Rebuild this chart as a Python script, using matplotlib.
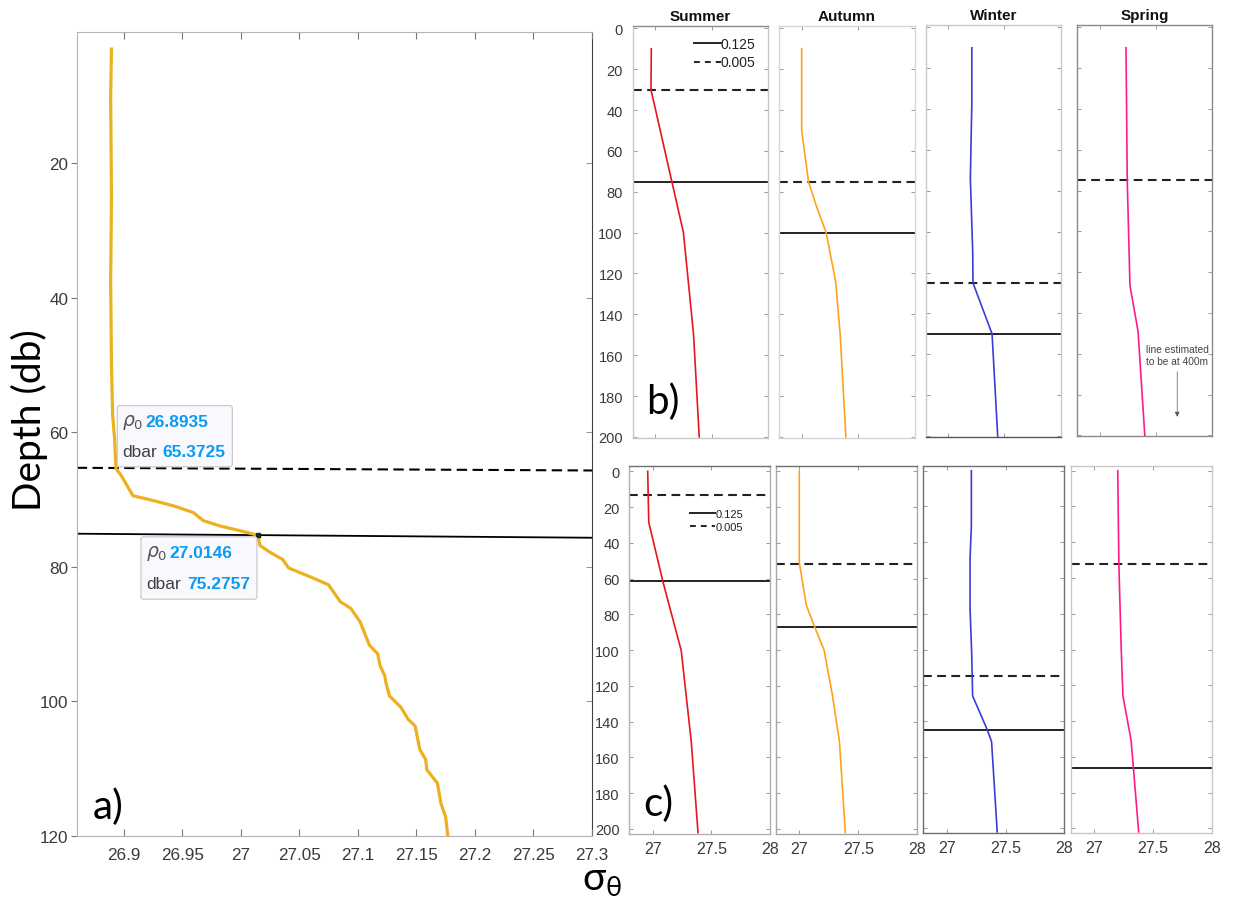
import matplotlib
matplotlib.use('Agg')
import matplotlib.pyplot as plt
from matplotlib.patches import FancyBboxPatch

plt.rcParams['font.family'] = ['Liberation Sans', 'DejaVu Sans']

# ---- panel a) : single profile ----
dep_a = [2.75, 10, 25, 37.5, 50, 57.5, 61, 65.37, 66.4, 67.9, 69.4, 70.0, 70.9,
         71.9, 73.1, 73.9, 74.6, 75.28, 76.8, 77.8, 78.9, 80.15, 81.65, 82.65,
         85.15, 86.15, 88.15, 91.65, 92.9, 94.65, 96.15, 97.15, 99.15, 100.9,
         102.65, 103.65, 107.15, 108.65, 110.15, 112.15, 115.15, 117.15, 120.15]
sig_a = [26.8897, 26.889, 26.8897, 26.889, 26.8897, 26.8907, 26.8924, 26.8935,
         26.898, 26.903, 26.908, 26.9226, 26.9425, 26.9596, 26.968, 26.9824,
         26.9995, 27.0146, 27.0165, 27.025, 27.036, 27.041, 27.062, 27.075,
         27.085, 27.094, 27.102, 27.110, 27.117, 27.119, 27.123, 27.124, 27.127,
         27.137, 27.143, 27.149, 27.153, 27.158, 27.159, 27.168, 27.171, 27.175,
         27.177]
xticks_a = [26.9, 26.95, 27, 27.05, 27.1, 27.15, 27.2, 27.25, 27.3]
xticklabels_a = ['26.9', '26.95', '27', '27.05', '27.1', '27.15', '27.2', '27.25', '27.3']
yticks_a = [20, 40, 60, 80, 100, 120]
mld_dashed_a = [65.25, 65.65]   # 0.005 criterion, left/right end
mld_solid_a = [75.05, 75.65]    # 0.125 criterion
tip1 = ('26.8935', '65.3725')
tip2 = ('27.0146', '75.2757')

# ---- panels b) and c) : seasonal profiles ----
seasons = ['Summer', 'Autumn', 'Winter', 'Spring']
colors = ['#E8141E', '#FFA21A', '#3C3CD2', '#FF1A8C']

dep_b = [[10, 30, 100, 150, 200],
         [10, 50, 75, 87, 100, 124, 150, 200],
         [10, 37, 74, 110, 125, 150, 200],
         [10, 75, 126.5, 149, 200]]
sig_b = [[26.965, 26.962, 27.25, 27.34, 27.39],
         [27.0, 27.0, 27.06, 27.13, 27.216, 27.30, 27.34, 27.39],
         [27.21, 27.21, 27.197, 27.218, 27.22, 27.39, 27.44],
         [27.233, 27.244, 27.268, 27.34, 27.40]]
dashed_b = [30, 75, 125, 75]
solid_b = [75, 100, 150, None]

dep_c = [[0, 28.5, 61.5, 100.3, 151.5, 202],
         [0, 51, 75, 87, 100, 125, 151, 202],
         [0, 31, 49, 77, 103, 126, 145, 151.5, 202],
         [0, 51.8, 99, 126, 150.6, 166, 202]]
sig_c = [[26.957, 26.966, 27.086, 27.243, 27.329, 27.386],
         [27.0, 27.0, 27.06, 27.13, 27.21, 27.28, 27.34, 27.39],
         [27.209, 27.209, 27.198, 27.198, 27.212, 27.22, 27.345, 27.381, 27.429],
         [27.199, 27.208, 27.228, 27.243, 27.312, 27.332, 27.377]]
dashed_c = [13, 52, 115, 52]
solid_c = [61.5, 87, 145, 166]

season_yticks = [0, 20, 40, 60, 80, 100, 120, 140, 160, 180, 200]
season_xticks = [27, 27.5, 28]
season_xticklabels = ['27', '27.5', '28']
legend_labels = ['0.125', '0.005']

W, H = 1234, 904
fig = plt.figure(figsize=(W / 100, H / 100), dpi=100)


def rect(x0, y0, x1, y1):
    return [x0 / W, 1 - y1 / H, (x1 - x0) / W, (y1 - y0) / H]


# ================= panel a =================
ax = fig.add_axes(rect(76.7, 33, 592, 837))
ax.plot(sig_a, dep_a, color='#EDB120', lw=2.3, solid_capstyle='butt', zorder=3)
ax.plot([26.86, 27.3], mld_dashed_a, color='k', lw=1.5, ls=(0, (5, 2.6)), zorder=2)
ax.plot([26.86, 27.3], mld_solid_a, color='k', lw=1.3, zorder=2)
ax.plot([float(tip2[0])], [float(tip2[1])], 's', color='#222222', ms=2.5, zorder=4)
ax.set_xlim(26.86, 27.3)
ax.set_ylim(120, 0.45)
ax.set_xticks(xticks_a)
ax.set_xticklabels(xticklabels_a)
ax.set_yticks(yticks_a)
ax.tick_params(axis='x', direction='in', top=True, length=5, width=0.8,
               color='#777777', labelsize=12.3, labelcolor='#3a3a3a', pad=8)
ax.tick_params(axis='y', direction='out', length=4.5, width=0.8,
               color='#777777', labelsize=12.3, labelcolor='#3a3a3a', pad=1.5)
sec = ax.secondary_yaxis('right')
sec.set_yticks(yticks_a)
sec.tick_params(direction='in', length=4.5, width=0.8, color='#999999', labelright=False)
for s in ['left', 'top', 'bottom']:
    ax.spines[s].set_color('#b4b4b4')
sec.spines['right'].set_color('#404040')
ax.spines['right'].set_visible(False)


def datatip(x0, x1, y0, y1, rows):
    box = FancyBboxPatch((x0, y0), x1 - x0, y1 - y0,
                         boxstyle='round,pad=0,rounding_size=0.0025',
                         mutation_aspect=140, fc='#f9f9fd', ec='#c9c9d2', lw=0.9,
                         transform=ax.transData, zorder=5)
    ax.add_patch(box)
    for lab, lx, vx, yy, val in rows:
        if lab == 'rho':
            ax.text(lx, yy, r'$\rho_0$', color='#555555', fontsize=13.5, va='center',
                    ha='left', zorder=6)
        else:
            ax.text(lx, yy, lab, color='#404040', fontsize=12.5, va='center',
                    ha='left', zorder=6)
        ax.text(vx, yy, val, color='#0A9BF5', fontsize=12.5, fontweight='bold',
                va='center', ha='left', zorder=6)


datatip(26.8947, 26.9929, 56.0, 65.1,
        [('rho', 26.8985, 26.9183, 58.3, tip1[0]),
         ('dbar', 26.8985, 26.9328, 62.9, tip1[1])])
datatip(26.9149, 27.0139, 75.5, 84.8,
        [('rho', 26.919, 26.9388, 77.9, tip2[0]),
         ('dbar', 26.919, 26.9542, 82.4, tip2[1])])

big = ['Lato', 'DejaVu Sans']
fig.text(93 / W, 1 - 807 / H, 'a)', fontsize=29, family=big, ha='left', va='center')
fig.text(29 / W, 1 - 420 / H, 'Depth (db)', fontsize=28, family=big, rotation=90,
         ha='center', va='center')
fig.text(582 / W, 1 - 891 / H, r'σ$_\mathregular{θ}$', fontsize=28, family=big,
         ha='left', va='baseline')

# ================= panels b and c =================
rects_b = [(632.7, 26.7, 768.0, 438.5), (779.0, 26.7, 915.0, 438.5),
           (925.7, 25.7, 1060.7, 437.7), (1077.3, 25.7, 1212.3, 437.0)]
rects_c = [(629.3, 467.3, 770.0, 835.0), (775.7, 467.3, 917.3, 835.0),
           (923.3, 466.7, 1064.3, 834.3), (1071.0, 466.7, 1211.7, 834.3)]
spine_b = ['#c8c8c8', '#d6d6d6', '#c8c8c8', '#8a8a8a']
spine_c = ['#b0b0b0', '#a8a8a8', '#6e6e6e', '#c8c8c8']


def season_panel(r, sig, dep, color, dsh, sol, ylim, ylab, xlab, scol):
    a = fig.add_axes(rect(*r))
    a.plot(sig, dep, color=color, lw=1.2, zorder=3)
    if dsh is not None:
        a.axhline(dsh, color='#222222', lw=1.5, ls=(0, (4.2, 2.6)), zorder=2)
    if sol is not None:
        a.axhline(sol, color='#222222', lw=1.4, zorder=2)
    a.set_xlim(26.8, 28)
    a.set_ylim(*ylim)
    a.set_xticks(season_xticks)
    a.set_yticks(season_yticks)
    a.tick_params(direction='in', top=True, right=True, length=3, width=0.7,
                  color='#9a9a9a', labelcolor='#3a3a3a')
    a.tick_params(axis='y', labelsize=10.5, labelleft=ylab, pad=7)
    a.tick_params(axis='x', labelsize=11.5, labelbottom=xlab, pad=5)
    if xlab:
        a.set_xticklabels(season_xticklabels)
    for s in a.spines.values():
        s.set_color(scol)
        s.set_linewidth(1.0)
    return a


axes_b = []
for i in range(4):
    a = season_panel(rects_b[i], sig_b[i], dep_b[i], colors[i], dashed_b[i], solid_b[i],
                     (200.3, -1.3), i == 0, False, spine_b[i])
    a.set_title(seasons[i], fontsize=11, fontweight='bold', pad=4, color='#111111')
    axes_b.append(a)
axes_b[0].spines['top'].set_color('#8a8a8a')
axes_b[2].spines['bottom'].set_color('#555555')

axes_c = []
for i in range(4):
    a = season_panel(rects_c[i], sig_c[i], dep_c[i], colors[i], dashed_c[i], solid_c[i],
                     (202.8, -2.8), i == 0, True, spine_c[i])
    axes_c.append(a)
axes_c[0].spines['top'].set_color('#6e6e6e')
axes_c[1].spines['top'].set_color('#6e6e6e')

# legends (line samples + labels)
for a, fs, hl, anchor in [(axes_b[0], 10, 1.9, (0.455, 0.972)),
                          (axes_c[0], 8, 2.3, (0.43, 0.885))]:
    h1, = a.plot([], [], color='#222222', lw=1.4)
    h2, = a.plot([], [], color='#222222', lw=1.4, ls=(0, (3, 2.6)))
    a.legend([h1, h2], legend_labels, loc='upper left', bbox_to_anchor=anchor,
             frameon=False, fontsize=fs, handlelength=hl, handletextpad=0.0,
             labelspacing=0.3, borderaxespad=0, borderpad=0, labelcolor='#222222')

# spring annotation
axes_b[3].text(0.74, 0.197, 'line estimated\nto be at 400m', transform=axes_b[3].transAxes,
               ha='center', va='center', fontsize=7.3, color='#444444', linespacing=1.25)
axes_b[3].annotate('', xy=(0.74, 0.04), xytext=(0.74, 0.163),
                   xycoords='axes fraction', textcoords='axes fraction',
                   arrowprops=dict(arrowstyle='-|>', color='#555555', lw=0.5,
                                   mutation_scale=7))

fig.text(663 / W, 1 - 402 / H, 'b)', fontsize=29, family=big, ha='center', va='center')
fig.text(658 / W, 1 - 804 / H, 'c)', fontsize=29, family=big, ha='center', va='center')

fig.savefig('out.png', dpi=100, facecolor='white')
